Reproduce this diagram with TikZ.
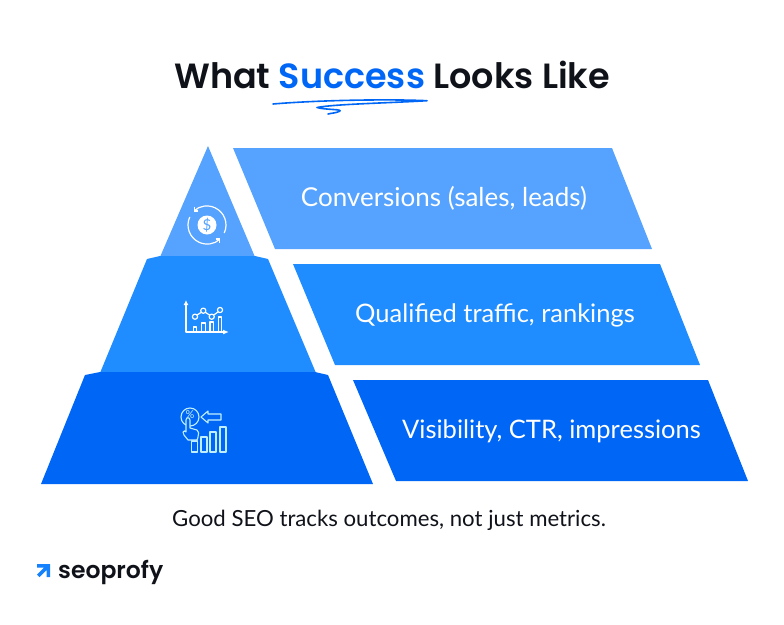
\documentclass[tikz,border=0pt]{standalone}
\usepackage{fontspec}
\setmainfont{Lato}
\newfontfamily\headfont{Poppins SemiBold}
\usepackage{xcolor}
\usetikzlibrary{arrows.meta,calc,positioning}
\definecolor{topblue}{HTML}{55A3FF}
\definecolor{midblue}{HTML}{1F8CFF}
\definecolor{lowblue}{HTML}{0066F6}
\definecolor{inkblack}{HTML}{10121A}
\definecolor{iconcyan}{HTML}{BFEFFF}
\begin{document}
\begin{tikzpicture}[
		x=1pt,y=-1pt,
		band/.style={white,font=\fontsize{25.5}{28}\selectfont,inner sep=0pt},
		iconline/.style={draw=white,line width=1.2pt,line join=round},
		lowline/.style={draw=iconcyan,line width=1.1pt,line join=round}]
	\useasboundingbox (0,0) rectangle (784,624);
	\node[font=\headfont\fontsize{35}{40}\selectfont,text=inkblack,anchor=base,inner sep=0pt] (title) at (392,88) {What \textcolor{lowblue}{Success} Looks Like};
	\draw[lowblue,line width=1.6pt,line cap=round,line join=round] (273,104) .. controls (320,100) and (390,99) .. (427,100.7) .. controls (390,103) and (335,104) .. (317,107.5) .. controls (325,110) and (345,109) .. (339,111.5) .. controls (336,113) and (332,113) .. (328,114);
		\fill[topblue] (208,146) -- (255,257) -- (160,257) -- cycle;
		\fill[midblue] (160,256) -- (255,256) -- (268,259) -- (316,373) -- (100,373) -- (147,259) -- cycle;
		\fill[lowblue] (100,372) -- (315,372) -- (328,375) -- (373,484) -- (41,484) -- (85,375) -- cycle;
		\fill[topblue] (233,148) -- (612,148) -- (652,249) -- (275,249) -- cycle;
		\fill[midblue] (293,264) -- (660,264) -- (700,365) -- (335,365) -- cycle;
		\fill[lowblue] (353,380) -- (708,380) -- (748,481) -- (396,481) -- cycle;
		\node[band,font=\fontsize{26}{28}\selectfont] (conv) at (444,198) {Conversions (sales, leads)};
		\node[band] (traffic) at (495,315) {Qualified traffic, rankings};
		\node[band] (visib) at (551.5,431) {Visibility, CTR, impressions};
		\node[font=\fontsize{22.2}{26}\selectfont,text=inkblack,inner sep=0pt] (claim) at (389,520) {Good SEO tracks outcomes, not just metrics.};
		\begin{scope}[shift={(207,225)}]
			\fill[white] (0,0) circle (9.5);
			\node[text=topblue,font=\fontsize{15}{15}\selectfont,inner sep=0pt] (dollar) at (0,0) {\$};
			\draw[iconline,-{Straight Barb[length=3pt,width=6pt]}] (25:19) arc[start angle=25,end angle=-135,radius=19];
			\draw[iconline,-{Straight Barb[length=3pt,width=6pt]}] (205:19) arc[start angle=205,end angle=45,radius=19];
		\end{scope}
		\draw[iconline,{Latex[length=5pt,width=5pt]}-{Latex[length=6pt,width=5pt]}] (186,300) |- (229,332);
		\foreach \bx/\by in {195/327,203.3/323,211.7/322,220/317}{
			\draw[iconline] (\bx-1.8,332) -- (\bx-1.8,\by) -- (\bx+1.8,\by) -- (\bx+1.8,332);
		}
		\draw[iconline] (197,315) -- (201.5,312.2) (205.2,312.2) -- (209.8,315.2) (213.5,315.2) -- (218.2,311.8);
		\foreach \cx/\cy in {195/316.7,203.3/310.7,211.7/316.7,220/310}{
			\draw[iconline] (\cx,\cy) circle (2.6);
		}
		\draw[lowline] (190,417) circle (9);
		\node[text=iconcyan,font=\fontsize{11}{11}\selectfont,inner sep=0pt] (pct) at (190,415) {\%};
		\draw[lowline] (201,417) -- (208,411) -- (208,414) -- (221,414) -- (221,420) -- (208,420) -- (208,423) -- cycle;
		\foreach \bx/\by in {191.5/441,201/437,210/432,220/427}{
			\draw[lowline] (\bx,452) rectangle (\bx+6,\by);
		}
		\draw[lowline,fill=lowblue] (186,420) .. controls (186,417) and (190,417) .. (190,420) -- (190,428) -- (197,430) .. controls (199,431) and (199,434) .. (198,437) -- (197,440) -- (188,440) -- (184,435) -- (183,432) .. controls (184,430) and (185,431) .. (186,432) -- cycle;
		\fill[midblue!70!lowblue] (37,564) -- (50,564) -- (50,577) -- (46.5,577) -- (46.5,570) -- (39.5,577) -- (37,574.5) -- (44,567.5) -- (37,567.5) -- cycle;
		\node[font=\headfont\fontsize{23.5}{28}\selectfont,text=inkblack,anchor=base west,inner sep=0pt] (brand) at (58,578) {seoprofy};
\end{tikzpicture}
\end{document}
